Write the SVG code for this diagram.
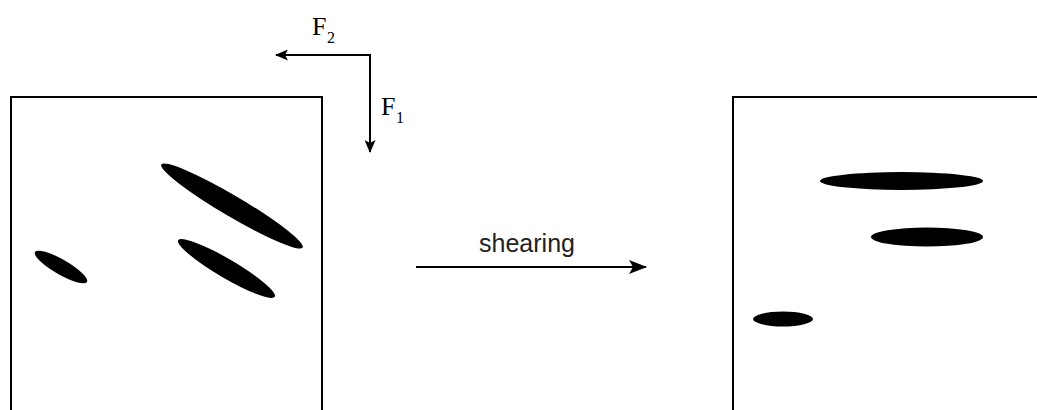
<svg xmlns="http://www.w3.org/2000/svg" width="1037" height="410" viewBox="0 0 1037 410">
<style>
.box{fill:none;stroke:#000;stroke-width:2}
.ln{fill:none;stroke:#000;stroke-width:2}
.blob{fill:#000}
.lbl{font-family:"Liberation Serif",serif;font-size:26px;fill:#000}
.sub{font-family:"Liberation Serif",serif;font-size:16px;fill:#000}
.txt{font-family:"Liberation Sans",Arial,sans-serif;font-size:25px;fill:#222}
</style>
<defs>
<marker id="ah" viewBox="0 0 13 11" refX="12" refY="5.5" markerWidth="13" markerHeight="11" markerUnits="userSpaceOnUse" orient="auto">
<path d="M0,0 L13,5.5 L0,11 L3,5.5 Z" fill="#000"/>
</marker>
<marker id="ah2" viewBox="0 0 18 14" refX="17" refY="7" markerWidth="18" markerHeight="14" markerUnits="userSpaceOnUse" orient="auto">
<path d="M0,0 L18,7 L0,14 L4,7 Z" fill="#000"/>
</marker>
</defs>
<rect width="1037" height="410" fill="#fff"/>
<g id="before">
<path class="box" d="M11,412 V97 H322 V412"/>
<ellipse class="blob" cx="232" cy="206" rx="82" ry="10.5" transform="rotate(30.5 232 206)"/>
<ellipse class="blob" cx="226.5" cy="268.5" rx="56" ry="9.5" transform="rotate(30.4 226.5 268.5)"/>
<ellipse class="blob" cx="61" cy="267" rx="30" ry="7.5" transform="rotate(30 61 267)"/>
</g>
<g id="after">
<path class="box" d="M733,412 V97 H1040"/>
<ellipse class="blob" cx="901.5" cy="181" rx="81.5" ry="9"/>
<ellipse class="blob" cx="927" cy="237" rx="56" ry="9.5"/>
<ellipse class="blob" cx="783" cy="319" rx="30" ry="7.5"/>
</g>
<g id="forces">
<text class="lbl" x="312" y="35">F</text><text class="sub" x="327" y="43">2</text>
<text class="lbl" x="381" y="115">F</text><text class="sub" x="396" y="123">1</text>
</g>
<g id="connectors">
<path class="ln" d="M370,55 H276" marker-end="url(#ah)"/>
<path class="ln" d="M370,54 V152" marker-end="url(#ah)"/>
<path class="ln" d="M416,267 H646" marker-end="url(#ah2)"/>
<text class="txt" x="527" y="252" text-anchor="middle">shearing</text>
</g>
</svg>
